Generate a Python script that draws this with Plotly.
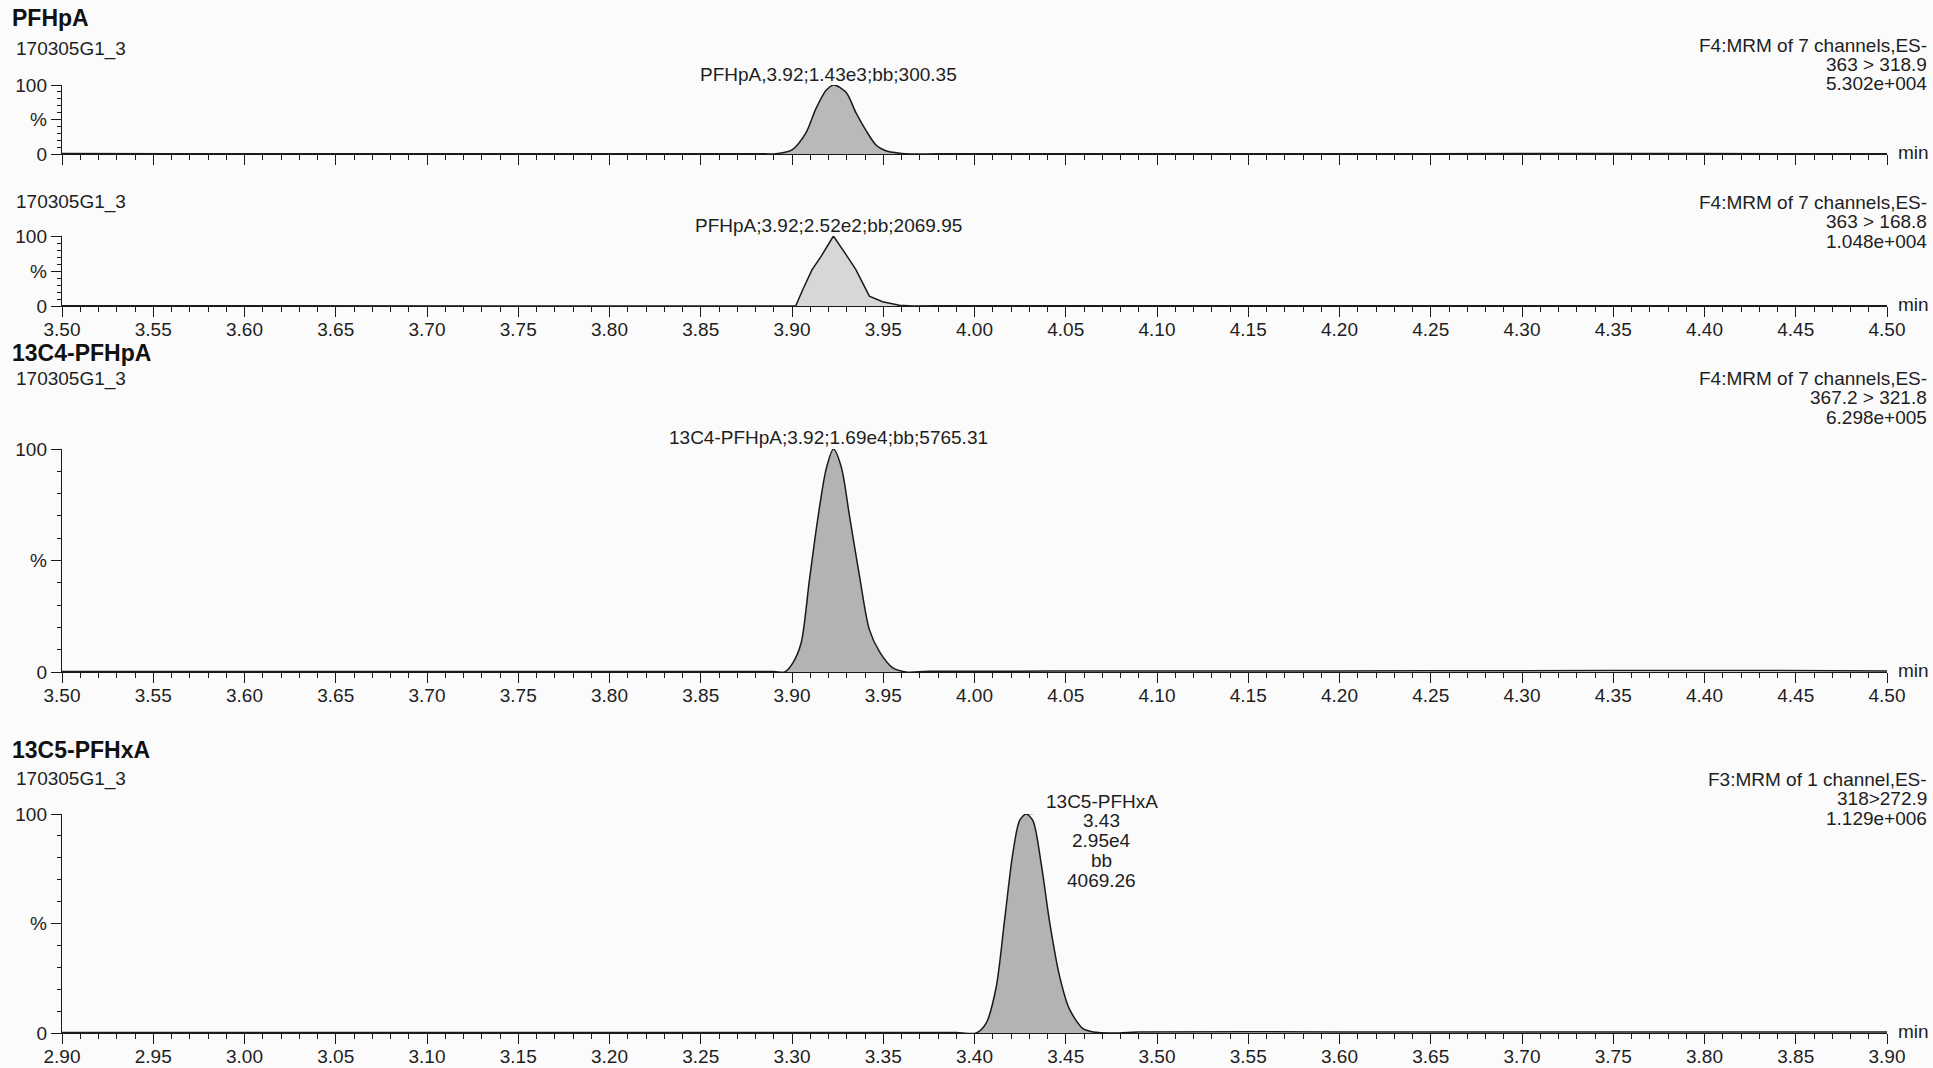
import plotly.graph_objects as go

W, H = 1933, 1068

# ---------------- data: retention time (min) and relative intensity (%) ----------------
# PFHpA quantitation transition 363 > 318.9
pfhpa_q_base_l_t = [3.50, 3.56, 3.62, 3.70, 3.78, 3.85, 3.885]
pfhpa_q_base_l_i = [0.6, 0.5, 0.5, 0.4, 0.5, 0.4, 0.3]
pfhpa_q_peak_t = [3.890, 3.900, 3.9077, 3.913, 3.9186, 3.923, 3.9297, 3.935, 3.9406, 3.946, 3.951, 3.959, 3.966]
pfhpa_q_peak_i = [0.0, 6, 31, 65, 92, 100, 89, 60, 34, 13, 5, 1, 0.0]
pfhpa_q_base_r_t = [3.98, 4.05, 4.15, 4.25, 4.35, 4.45, 4.50]
pfhpa_q_base_r_i = [0.3, 0.4, 0.5, 0.5, 0.6, 0.5, 0.5]

# PFHpA confirmation transition 363 > 168.8
pfhpa_c_base_l_t = [3.50, 3.60, 3.70, 3.80, 3.89, 3.898]
pfhpa_c_base_l_i = [0.3, 0.3, 0.3, 0.3, 0.3, 0.3]
pfhpa_c_peak_t = [3.902, 3.906, 3.911, 3.9155, 3.9227, 3.9297, 3.935, 3.9424, 3.9496, 3.9589, 3.966]
pfhpa_c_peak_i = [0.0, 24, 52, 69, 100, 73, 52, 14, 6, 1, 0.0]
pfhpa_c_base_r_t = [3.98, 4.10, 4.20, 4.30, 4.40, 4.50]
pfhpa_c_base_r_i = [0.3, 0.4, 0.6, 0.6, 0.5, 0.4]

# 13C4-PFHpA internal standard 367.2 > 321.8
c4_base_l_t = [3.50, 3.60, 3.70, 3.80, 3.89]
c4_base_l_i = [0.2, 0.2, 0.2, 0.2, 0.2]
c4_peak_t = [3.896, 3.9004, 3.905, 3.9095, 3.914, 3.9187, 3.9227, 3.927, 3.9315, 3.937, 3.9424, 3.948, 3.955, 3.9625]
c4_peak_i = [0.0, 4, 13, 41, 68, 91, 100, 92, 70, 43, 19, 9, 2, 0.0]
c4_base_r_t = [3.975, 4.10, 4.20, 4.30, 4.40, 4.50]
c4_base_r_i = [0.3, 0.4, 0.5, 0.6, 0.7, 0.5]

# 13C5-PFHxA internal standard 318 > 272.9
c5_base_l_t = [2.90, 3.00, 3.10, 3.20, 3.30, 3.39]
c5_base_l_i = [0.2, 0.2, 0.2, 0.2, 0.2, 0.2]
c5_peak_t = [3.401, 3.4064, 3.4119, 3.4164, 3.421, 3.4247, 3.4283, 3.432, 3.4366, 3.4411, 3.4466, 3.452, 3.4594, 3.4667, 3.474]
c5_peak_i = [0.0, 4.5, 21, 51, 82, 97, 100, 97, 77, 51, 26, 11, 2, 0.3, 0.0]
c5_base_r_t = [3.49, 3.60, 3.70, 3.80, 3.90]
c5_base_r_i = [0.4, 0.5, 0.5, 0.4, 0.4]

# axis ticks
ticks_a = [3.50, 3.55, 3.60, 3.65, 3.70, 3.75, 3.80, 3.85, 3.90, 3.95, 4.00,
           4.05, 4.10, 4.15, 4.20, 4.25, 4.30, 4.35, 4.40, 4.45, 4.50]
labels_a = ["3.50", "3.55", "3.60", "3.65", "3.70", "3.75", "3.80", "3.85", "3.90", "3.95", "4.00",
            "4.05", "4.10", "4.15", "4.20", "4.25", "4.30", "4.35", "4.40", "4.45", "4.50"]
ticks_b = [2.90, 2.95, 3.00, 3.05, 3.10, 3.15, 3.20, 3.25, 3.30, 3.35, 3.40,
           3.45, 3.50, 3.55, 3.60, 3.65, 3.70, 3.75, 3.80, 3.85, 3.90]
labels_b = ["2.90", "2.95", "3.00", "3.05", "3.10", "3.15", "3.20", "3.25", "3.30", "3.35", "3.40",
            "3.45", "3.50", "3.55", "3.60", "3.65", "3.70", "3.75", "3.80", "3.85", "3.90"]
y_ticks = [0, 50, 100]
y_labels = ["0", "%", "100"]

# ---------------- layout helpers ----------------
FONT = "Liberation Sans, Arial, Helvetica, sans-serif"
TXT = "#1e1e1e"
FS = 19


def px(x):
    return x / W


def py(y):
    return 1 - y / H


X_LEFT, X_RIGHT = 62, 1887

panels = [
    dict(title="PFHpA", title_y=18, sample_y=49,
         right=["F4:MRM of 7 channels,ES-", "363 > 318.9", "5.302e+004"], right_y=45,
         label="PFHpA,3.92;1.43e3;bb;300.35", label_x=3.92, label_y=74,
         top=85, bottom=154, ticks=ticks_a, labels=labels_a, show_labels=False,
         base_l=(pfhpa_q_base_l_t, pfhpa_q_base_l_i), peak=(pfhpa_q_peak_t, pfhpa_q_peak_i),
         base_r=(pfhpa_q_base_r_t, pfhpa_q_base_r_i), shape="spline", fill="rgba(120,120,120,0.5)"),
    dict(title=None, title_y=None, sample_y=202,
         right=["F4:MRM of 7 channels,ES-", "363 > 168.8", "1.048e+004"], right_y=202,
         label="PFHpA;3.92;2.52e2;bb;2069.95", label_x=3.92, label_y=226,
         top=236, bottom=306, ticks=ticks_a, labels=labels_a, show_labels=True,
         base_l=(pfhpa_c_base_l_t, pfhpa_c_base_l_i), peak=(pfhpa_c_peak_t, pfhpa_c_peak_i),
         base_r=(pfhpa_c_base_r_t, pfhpa_c_base_r_i), shape="linear", fill="rgba(150,150,150,0.35)"),
    dict(title="13C4-PFHpA", title_y=353, sample_y=379,
         right=["F4:MRM of 7 channels,ES-", "367.2 > 321.8", "6.298e+005"], right_y=378,
         label="13C4-PFHpA;3.92;1.69e4;bb;5765.31", label_x=3.92, label_y=437,
         top=449, bottom=672, ticks=ticks_a, labels=labels_a, show_labels=True,
         base_l=(c4_base_l_t, c4_base_l_i), peak=(c4_peak_t, c4_peak_i),
         base_r=(c4_base_r_t, c4_base_r_i), shape="spline", fill="rgba(120,120,120,0.55)"),
    dict(title="13C5-PFHxA", title_y=750, sample_y=779,
         right=["F3:MRM of 1 channel,ES-", "318>272.9", "1.129e+006"], right_y=779,
         label=None, label_x=None, label_y=None,
         top=814, bottom=1033, ticks=ticks_b, labels=labels_b, show_labels=True,
         base_l=(c5_base_l_t, c5_base_l_i), peak=(c5_peak_t, c5_peak_i),
         base_r=(c5_base_r_t, c5_base_r_i), shape="spline", fill="rgba(120,120,120,0.55)"),
]

fig = go.Figure()
annotations = []
shapes = []

for k, p in enumerate(panels, start=1):
    xa = "x" if k == 1 else f"x{k}"
    ya = "y" if k == 1 else f"y{k}"
    t_all = p["base_l"][0] + p["peak"][0] + p["base_r"][0]
    i_all = p["base_l"][1] + p["peak"][1] + p["base_r"][1]

    # integrated peak area
    fig.add_trace(go.Scatter(
        x=p["peak"][0], y=p["peak"][1], mode="lines",
        line=dict(width=0, shape=p["shape"], smoothing=0.8),
        fill="tozeroy", fillcolor=p["fill"], hoverinfo="skip",
        xaxis=xa, yaxis=ya, showlegend=False))
    # chromatogram trace
    fig.add_trace(go.Scatter(
        x=t_all, y=i_all, mode="lines",
        line=dict(color="#1a1a1a", width=1.5, shape=p["shape"], smoothing=0.8),
        xaxis=xa, yaxis=ya, showlegend=False))

    lo, hi = p["ticks"][0], p["ticks"][-1]
    minor_vals = [round(lo + 0.01 * j, 2) for j in range(101)]
    fig.update_layout(**{
        ("xaxis" if k == 1 else f"xaxis{k}"): dict(
            domain=[px(X_LEFT), px(X_RIGHT)], range=[lo, hi], anchor=ya, automargin=False,
            showline=True, linecolor="#1a1a1a", linewidth=1.4,
            ticks="outside", ticklen=10, tickwidth=1, tickcolor="#1a1a1a",
            tickmode="array", tickvals=p["ticks"], ticktext=p["labels"],
            showticklabels=p["show_labels"], ticklabelstandoff=-4,
            tickfont=dict(family=FONT, size=FS, color=TXT),
            minor=dict(ticks="outside", ticklen=5, tickwidth=1, tickcolor="#1a1a1a",
                       tickmode="array", tickvals=minor_vals, showgrid=False),
            showgrid=False, zeroline=False, fixedrange=True),
        ("yaxis" if k == 1 else f"yaxis{k}"): dict(
            domain=[py(p["bottom"]), py(p["top"])], range=[0, 100], anchor=xa, automargin=False,
            showline=True, linecolor="#1a1a1a", linewidth=1.4,
            ticks="outside", ticklen=10, tickwidth=1, tickcolor="#1a1a1a",
            tickmode="array", tickvals=y_ticks, ticktext=y_labels,
            tickfont=dict(family=FONT, size=FS, color=TXT),
            minor=dict(ticks="outside", ticklen=4, tickwidth=1, tickcolor="#1a1a1a",
                       tickmode="array", tickvals=[10, 20, 30, 40, 60, 70, 80, 90], showgrid=False),
            showgrid=False, zeroline=False, fixedrange=True),
    })

    if p["title"]:
        annotations.append(dict(text=f"<b>{p['title']}</b>", xref="paper", yref="paper",
                                x=px(10), y=py(p["title_y"]), xanchor="left", yanchor="middle",
                                showarrow=False, font=dict(family=FONT, size=23, color="#111")))
    annotations.append(dict(text="170305G1_3", xref="paper", yref="paper",
                            x=px(14), y=py(p["sample_y"]), xanchor="left", yanchor="middle",
                            showarrow=False, font=dict(family=FONT, size=FS, color=TXT)))
    for j, line in enumerate(p["right"]):
        annotations.append(dict(text=line, xref="paper", yref="paper",
                                x=px(1929), y=py(p["right_y"] + 19.5 * j),
                                xanchor="right", yanchor="middle", showarrow=False,
                                font=dict(family=FONT, size=FS, color=TXT)))
    annotations.append(dict(text="min", xref="paper", yref="paper",
                            x=px(1896), y=py(p["bottom"] - 2), xanchor="left", yanchor="middle",
                            showarrow=False, font=dict(family=FONT, size=FS, color=TXT)))
    if p["label"]:
        annotations.append(dict(text=p["label"], xref=xa, yref="paper",
                                x=p["label_x"], y=py(p["label_y"]), xanchor="center",
                                yanchor="middle", showarrow=False,
                                font=dict(family=FONT, size=FS, color=TXT)))

# stacked peak label for 13C5-PFHxA with leader line from the apex
c5_label = ["13C5-PFHxA", "3.43", "2.95e4", "bb", "4069.26"]
for j, line in enumerate(c5_label):
    annotations.append(dict(text=line, xref="x4", yref="paper", x=3.4696,
                            y=py(801 + 19.8 * j), xanchor="center", yanchor="middle",
                            showarrow=False, font=dict(family=FONT, size=FS, color=TXT)))
shapes.append(dict(type="line", xref="x4", yref="y4", x0=3.4283, x1=3.4394, y0=100, y1=100.5,
                   line=dict(color="#1a1a1a", width=1)))

fig.update_layout(
    width=W, height=H, margin=dict(l=0, r=0, t=0, b=0, autoexpand=False),
    paper_bgcolor="#fbfbfb", plot_bgcolor="rgba(0,0,0,0)",
    annotations=annotations, shapes=shapes, showlegend=False,
)

fig.write_html("out.html")
